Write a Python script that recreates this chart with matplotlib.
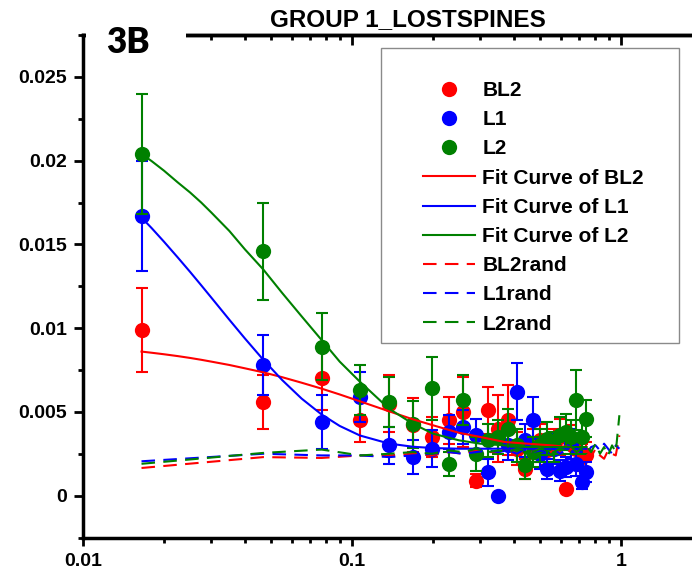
import matplotlib.pyplot as plt
from matplotlib.patches import Rectangle
from matplotlib.ticker import FixedLocator, NullFormatter

# ---------------------------------------------------------------
# data: bin centres and mean +/- error for each group
x_pos = [0.0165, 0.0468, 0.0771, 0.1074, 0.1377, 0.168, 0.1983, 0.2286, 0.2589,
         0.2892, 0.3195, 0.3498, 0.3801, 0.4104, 0.4407, 0.471, 0.5013, 0.5316,
         0.5619, 0.5922, 0.6225, 0.6528, 0.6831, 0.7134, 0.7437]

bl2 = [0.0099, 0.0056, 0.0070, 0.0045, 0.0055, 0.0042, 0.0035, 0.0045, 0.0050,
       0.0009, 0.0051, 0.0040, 0.0045, 0.0028, 0.0016, 0.0030, 0.0033, 0.0027,
       0.0030, 0.0035, 0.0004, 0.0032, 0.0028, 0.0023, 0.0024]
bl2_err = [0.0025, 0.0016, 0.0019, 0.0013, 0.0017, 0.0016, 0.0012, 0.0014, 0.0021,
           0.0004, 0.0014, 0.0020, 0.0021, 0.0010, 0.0006, 0.0010, 0.0010, 0.0009,
           0.0010, 0.0011, 0.0002, 0.0010, 0.0009, 0.0008, 0.0008]

l1 = [0.0167, 0.0078, 0.0044, 0.0059, 0.0030, 0.0023, 0.0028, 0.0038, 0.0041,
      0.0036, 0.0014, 0.0000, 0.0030, 0.0062, 0.0033, 0.0045, 0.0025, 0.0016,
      0.0028, 0.0015, 0.0017, 0.0031, 0.0019, 0.0008, 0.0014]
l1_err = [0.0033, 0.0018, 0.0016, 0.0015, 0.0011, 0.0010, 0.0011, 0.0010, 0.0010,
          0.0010, 0.0008, 0.0000, 0.0009, 0.0017, 0.0010, 0.0014, 0.0009, 0.0006,
          0.0009, 0.0006, 0.0006, 0.0009, 0.0007, 0.0004, 0.0006]

l2 = [0.0204, 0.0146, 0.0089, 0.0063, 0.0056, 0.00425, 0.0064, 0.0019, 0.0057,
      0.0025, 0.0033, 0.0035, 0.0040, 0.0030, 0.0018, 0.0026, 0.0030, 0.0034,
      0.0029, 0.0036, 0.0038, 0.0035, 0.0057, 0.0035, 0.0046]
l2_err = [0.0036, 0.0029, 0.0020, 0.0015, 0.0015, 0.0014, 0.0019, 0.0007, 0.0015,
          0.0010, 0.0010, 0.0010, 0.0012, 0.0010, 0.0008, 0.0009, 0.0010, 0.0010,
          0.0009, 0.0011, 0.0011, 0.0010, 0.0018, 0.0010, 0.0011]

# fitted curves, sampled along x
fit_x = [0.0165, 0.018, 0.02, 0.0225, 0.025, 0.0275, 0.03, 0.035, 0.04, 0.0468,
         0.055, 0.065, 0.077, 0.09, 0.107, 0.137, 0.168, 0.2, 0.25, 0.3, 0.37,
         0.45, 0.55, 0.65, 0.7437]
fit_bl2 = [0.0086, 0.00853, 0.00844, 0.00833, 0.00822, 0.00811, 0.0080, 0.0078,
           0.0076, 0.00736, 0.00707, 0.00674, 0.00639, 0.00604, 0.00563, 0.00504,
           0.00456, 0.0042, 0.00375, 0.0035, 0.0032, 0.0031, 0.0030, 0.0029, 0.0029]
fit_l1 = [0.0166, 0.01597, 0.01516, 0.01422, 0.01336, 0.01256, 0.01182, 0.0105,
          0.00938, 0.00811, 0.0069, 0.00579, 0.00485, 0.00416, 0.00359, 0.00311,
          0.00292, 0.00284, 0.0028, 0.0028, 0.0028, 0.0028, 0.0028, 0.0028, 0.0028]
fit_l2 = [0.0204, 0.01997, 0.0194, 0.0187, 0.0181, 0.0175, 0.0169, 0.0158, 0.0147,
          0.0135, 0.0121, 0.0107, 0.0093, 0.0080, 0.0068, 0.0052, 0.0043, 0.0037,
          0.0033, 0.0031, 0.0030, 0.0029, 0.0029, 0.0029, 0.0029]

# randomised controls
rand_x = x_pos + [0.774, 0.804, 0.835, 0.865, 0.895, 0.926, 0.956, 0.986]
bl2_rand = [0.00165, 0.0023, 0.00225, 0.0024, 0.0024, 0.0025, 0.0024, 0.0026, 0.0025,
            0.0027, 0.0026, 0.0026, 0.0028, 0.0025, 0.0027, 0.0026, 0.0028, 0.0025,
            0.0027, 0.0026, 0.0024, 0.0028, 0.0026, 0.0027, 0.0025, 0.0023, 0.0028,
            0.0024, 0.0022, 0.0027, 0.0025, 0.0024, 0.0036]
l1_rand = [0.00205, 0.0025, 0.0024, 0.0024, 0.0023, 0.0024, 0.0025, 0.0026, 0.0025,
           0.0026, 0.0027, 0.0026, 0.0027, 0.0025, 0.0028, 0.0026, 0.0027, 0.0026,
           0.0028, 0.0025, 0.0027, 0.0026, 0.0028, 0.0026, 0.0025, 0.0029, 0.0030,
           0.0027, 0.0031, 0.0028, 0.0025, 0.0030, 0.0028]
l2_rand = [0.0019, 0.00255, 0.00275, 0.0024, 0.0025, 0.0026, 0.0025, 0.0027, 0.0026,
           0.0028, 0.0026, 0.0027, 0.0026, 0.0028, 0.0027, 0.0026, 0.0028, 0.0027,
           0.0026, 0.0028, 0.0027, 0.0029, 0.0026, 0.0028, 0.0030, 0.0026, 0.0031,
           0.0025, 0.0029, 0.0024, 0.0030, 0.0026, 0.0048]

ytick_vals = [0, 0.005, 0.01, 0.015, 0.02, 0.025]
ytick_labels = ['0', '0.005', '0.01', '0.015', '0.02', '0.025']
xtick_vals = [0.01, 0.1, 1]
xtick_labels = ['0.01', '0.1', '1']

RED, BLUE, GREEN = '#ff0000', '#0000ff', '#008000'

# ---------------------------------------------------------------
plt.rcParams['font.family'] = ['Liberation Sans', 'DejaVu Sans']
plt.rcParams['font.weight'] = 'bold'

W, H = 692, 576
fig = plt.figure(figsize=(W / 100, H / 100), dpi=100)
ax = fig.add_axes([83 / W, 38.5 / H, 619 / W, 502.5 / H])
ax.set_xscale('log')
ax.set_xlim(0.01, 2)
ax.set_ylim(-0.0025, 0.0275)

# points with error bars, red first so green ends up on top
handles = []
for y, e, c, name in [(bl2, bl2_err, RED, 'BL2'), (l1, l1_err, BLUE, 'L1'),
                      (l2, l2_err, GREEN, 'L2')]:
    ax.errorbar(x_pos, y, yerr=e, fmt='none', ecolor=c, elinewidth=1.5,
                capsize=4.3, capthick=1.5)
    h, = ax.plot(x_pos, y, 'o', color=c, ms=11, mew=0, label=name)
    handles.append(h)

for y, c, name in [(fit_bl2, RED, 'Fit Curve of BL2'), (fit_l1, BLUE, 'Fit Curve of L1'),
                   (fit_l2, GREEN, 'Fit Curve of L2')]:
    h, = ax.plot(fit_x, y, '-', color=c, lw=1.5, label=name)
    handles.append(h)

for y, c, name in [(bl2_rand, RED, 'BL2rand'), (l1_rand, BLUE, 'L1rand'),
                   (l2_rand, GREEN, 'L2rand')]:
    h, = ax.plot(rand_x, y, color=c, lw=1.5, ls=(0, (6.5, 4)), label=name)
    handles.append(h)

# axes styling
for s in ['left', 'bottom', 'top']:
    ax.spines[s].set_linewidth(2.5)
ax.spines['right'].set_visible(False)

ax.yaxis.set_major_locator(FixedLocator(ytick_vals))
ax.set_yticklabels(ytick_labels)
ax.yaxis.set_minor_locator(FixedLocator([-0.0025 + 0.005 * i for i in range(7)]))
ax.tick_params(axis='y', which='major', direction='out', length=6.5, width=2,
               labelsize=14, pad=5)
ax.tick_params(axis='y', which='minor', direction='out', length=3.5, width=2)

minor_x = [m * d for d in (0.01, 0.1, 1) for m in range(2, 10)]
ax.xaxis.set_major_locator(FixedLocator(xtick_vals))
ax.set_xticklabels(xtick_labels)
ax.xaxis.set_minor_locator(FixedLocator(minor_x))
ax.xaxis.set_minor_formatter(NullFormatter())
ax.tick_params(axis='x', which='major', direction='out', length=6, width=2,
               labelsize=14, pad=5)
ax.tick_params(axis='x', which='minor', direction='out', length=3.5, width=2)

# top axis: ticks pointing inwards, no labels
top = ax.secondary_xaxis('top')
top.xaxis.set_major_locator(FixedLocator(xtick_vals))
top.xaxis.set_minor_locator(FixedLocator(minor_x))
top.xaxis.set_major_formatter(NullFormatter())
top.xaxis.set_minor_formatter(NullFormatter())
top.tick_params(axis='x', which='major', direction='in', length=7, width=2)
top.tick_params(axis='x', which='minor', direction='in', length=3.5, width=2)
top.spines['top'].set_linewidth(2.5)

# legend with its own box
ax.add_patch(Rectangle((381 / W, 1 - 343 / H), 298 / W, 295 / H,
                       transform=fig.transFigure, facecolor='white',
                       edgecolor='#8a8a8a', lw=1.0, zorder=4, clip_on=False))
leg = ax.legend(handles=handles, loc='upper left',
                bbox_to_anchor=(423 / W, 1 - 81 / H), bbox_transform=fig.transFigure,
                frameon=False, borderpad=0, borderaxespad=0, handlelength=2.5,
                handletextpad=0.34, labelspacing=0.49, numpoints=1,
                prop={'size': 15, 'weight': 'bold'})
leg.set_zorder(5)

fig.text(408 / W, 1 - 26 / H, 'GROUP 1_LOSTSPINES', ha='center', va='baseline',
         fontsize=17.5, fontweight='bold')

# panel letter on a white patch over the top frame
fig.patches.append(Rectangle((86 / W, 1 - 47 / H), 100 / W, 27 / H,
                             transform=fig.transFigure, facecolor='white',
                             edgecolor='none', zorder=1))
fig.text(127.5 / W, 1 - 53 / H, '3B', ha='center', va='baseline',
         fontsize=25, fontweight='heavy', family=['Lato', 'DejaVu Sans'], zorder=3)

fig.savefig('out.png', dpi=100)
